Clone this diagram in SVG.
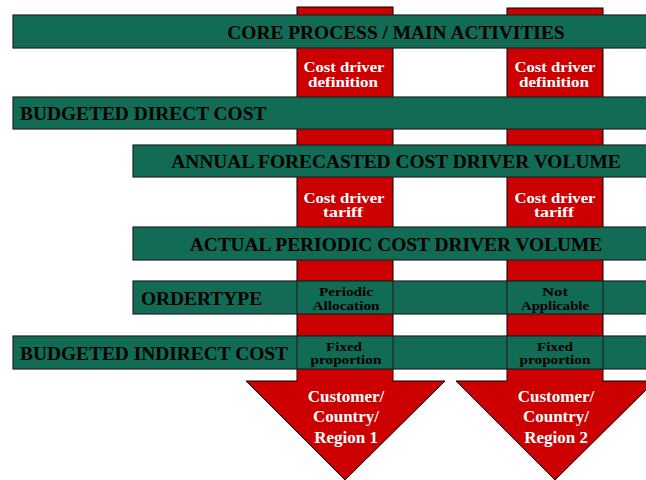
<svg xmlns="http://www.w3.org/2000/svg" width="646" height="480" viewBox="0 0 646 480">
<style>
.col{fill:#CC0000;stroke:#000;stroke-width:1}
.bar{fill:#116B55;stroke:#222;stroke-width:1.2}
.cell{fill:#116B55;stroke:#222;stroke-width:1.2}
.t{font-family:"Liberation Serif","Times New Roman",serif;font-weight:bold;fill:#000;font-size:19.4px}
.w{font-family:"Liberation Serif","Times New Roman",serif;font-weight:bold;fill:#fff;font-size:14.5px;text-anchor:middle}
.r{font-family:"Liberation Serif","Times New Roman",serif;font-weight:bold;fill:#fff;font-size:17px;text-anchor:middle}
.s{font-family:"Liberation Serif","Times New Roman",serif;font-weight:bold;fill:#000;font-size:12.5px;text-anchor:middle}
</style>
<rect width="646" height="480" fill="#fff"/>
<g id="column1">
<rect class="col" x="297" y="7" width="96" height="374"/>
<polygon class="col" points="246,381 445,381 345,480"/>
<rect x="297.5" y="370" width="95" height="13" fill="#CC0000"/>
</g>
<g id="column2">
<rect class="col" x="507" y="8" width="96" height="373"/>
<polygon class="col" points="456,381 655,381 555,480"/>
<rect x="507.5" y="370" width="95" height="13" fill="#CC0000"/>
</g>
<g id="core">
<rect class="bar" x="13" y="15" width="640" height="33"/>
<text class="t" x="396" y="38.5" text-anchor="middle">CORE PROCESS / MAIN ACTIVITIES</text>
</g>
<g id="def1"><text class="w" x="344" y="72" textLength="81" lengthAdjust="spacingAndGlyphs">Cost driver</text><text class="w" x="343" y="87" textLength="70" lengthAdjust="spacingAndGlyphs">definition</text></g>
<g id="def2"><text class="w" x="555" y="72" textLength="81" lengthAdjust="spacingAndGlyphs">Cost driver</text><text class="w" x="554" y="87" textLength="70" lengthAdjust="spacingAndGlyphs">definition</text></g>
<g id="direct">
<rect class="bar" x="13" y="97" width="640" height="32"/>
<text class="t" x="20" y="120">BUDGETED DIRECT COST</text>
</g>
<g id="annual">
<rect class="bar" x="133" y="145" width="520" height="32"/>
<text class="t" x="396" y="167.5" text-anchor="middle">ANNUAL FORECASTED COST DRIVER VOLUME</text>
</g>
<g id="tariff1"><text class="w" x="344" y="202.5" textLength="81" lengthAdjust="spacingAndGlyphs">Cost driver</text><text class="w" x="343" y="217" textLength="40" lengthAdjust="spacingAndGlyphs">tariff</text></g>
<g id="tariff2"><text class="w" x="555" y="202.5" textLength="81" lengthAdjust="spacingAndGlyphs">Cost driver</text><text class="w" x="554" y="217" textLength="40" lengthAdjust="spacingAndGlyphs">tariff</text></g>
<g id="actual">
<rect class="bar" x="133" y="227" width="520" height="33"/>
<text class="t" x="396" y="250.5" text-anchor="middle">ACTUAL PERIODIC COST DRIVER VOLUME</text>
</g>
<g id="ordertype">
<rect class="bar" x="133" y="281" width="520" height="33"/>
<rect class="cell" x="297" y="281" width="96" height="33"/>
<rect class="cell" x="507" y="281" width="96" height="33"/>
<text class="t" x="141" y="304.5">ORDERTYPE</text>
<text class="s" x="346" y="296" textLength="54" lengthAdjust="spacingAndGlyphs">Periodic</text><text class="s" x="346" y="310" textLength="67" lengthAdjust="spacingAndGlyphs">Allocation</text>
<text class="s" x="555" y="296" textLength="26" lengthAdjust="spacingAndGlyphs">Not</text><text class="s" x="555" y="310" textLength="68" lengthAdjust="spacingAndGlyphs">Applicable</text>
</g>
<g id="indirect">
<rect class="bar" x="13" y="336" width="640" height="33"/>
<rect class="cell" x="297" y="336" width="96" height="33"/>
<rect class="cell" x="507" y="336" width="96" height="33"/>
<text class="t" x="20" y="359.5">BUDGETED INDIRECT COST</text>
<text class="s" x="344" y="350.5" textLength="36" lengthAdjust="spacingAndGlyphs">Fixed</text><text class="s" x="346" y="363.5" textLength="71" lengthAdjust="spacingAndGlyphs">proportion</text>
<text class="s" x="555" y="350.5" textLength="36" lengthAdjust="spacingAndGlyphs">Fixed</text><text class="s" x="555" y="363.5" textLength="71" lengthAdjust="spacingAndGlyphs">proportion</text>
</g>
<g id="region1"><text class="r" x="346" y="402">Customer/</text><text class="r" x="346" y="422">Country/</text><text class="r" x="346" y="442.5">Region 1</text></g>
<g id="region2"><text class="r" x="556" y="402">Customer/</text><text class="r" x="556" y="422">Country/</text><text class="r" x="556" y="442.5">Region 2</text></g>
<g id="connectors"></g>
</svg>
